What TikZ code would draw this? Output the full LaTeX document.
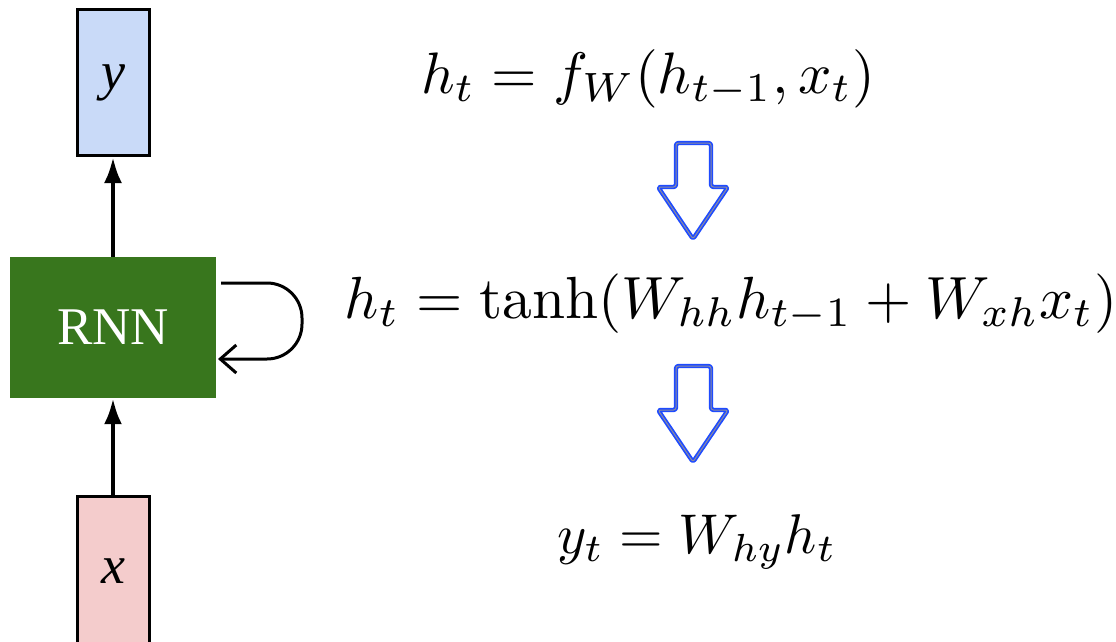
\documentclass[tikz,border=0pt]{standalone}
\usepackage{fontspec}
\newfontfamily\rnnfont{Liberation Serif}
\usetikzlibrary{arrows.meta,calc}
\definecolor{yfill}{HTML}{C9DAF8}
\definecolor{xfill}{HTML}{F4CCCC}
\definecolor{rnngreen}{HTML}{38761D}
\definecolor{arrblue}{RGB}{30,75,255}
\definecolor{arrgray}{RGB}{140,140,160}
\tikzset{
  vecbox/.style={draw=black, line width=3pt, minimum width=72pt, minimum height=146pt, inner sep=0pt, font=\rnnfont\itshape\fontsize{54}{60}\selectfont},
  flow/.style={line width=4.5pt, -{Latex[length=26pt,width=18pt]}},
  eq/.style={anchor=base, inner sep=0pt},
  hollow/.style={line width=4.4pt, draw=arrblue, rounded corners=2.5pt, line join=round},
  hollowin/.style={line width=1pt, draw=arrgray, rounded corners=2.5pt, line join=round}
}
\begin{document}
\begin{tikzpicture}[x=1pt,y=-1pt]
\useasboundingbox (0,0) rectangle (1116,642);
\node[vecbox, fill=yfill] (ybox) at (113,82.5) {y};
\node[vecbox, fill=xfill, minimum height=150pt] (xbox) at (113,571) {x};
\node[fill=rnngreen, minimum width=206pt, minimum height=141pt, inner sep=0pt, text=white, font=\rnnfont\fontsize{53}{58}\selectfont] (rnn) at (113,327.5) {RNN};
\draw[flow] (rnn.north) -- (ybox.south);
\draw[flow] (xbox.north) -- (rnn.south);
\coordinate (ls) at (221,283);
\coordinate (le) at (218,359);
\draw[line width=3pt, rounded corners=35pt, -{Straight Barb[length=16pt,width=28pt]}] (ls) -- (302,283) -- (302,359) -- (le);
\node[eq, scale=5.85] (e1) at (648,93) {$h_t = f_W(h_{t-1}, x_t)$};
\node[eq, scale=5.95] (e2) at (731,318) {$h_t = \tanh(W_{hh}h_{t-1} + W_{xh}x_t)$};
\node[eq, scale=5.6] (e3) at (697,553) {$y_t = W_{hy}h_t$};
\foreach \t/\s/\p in {143/187/239, 366/410/462}{
  \draw[hollow] (676,\t) -- (711,\t) -- (711,\s) -- (728,\s) -- (693,\p) -- (658,\s) -- (676,\s) -- cycle;
  \draw[hollowin] (676,\t) -- (711,\t) -- (711,\s) -- (728,\s) -- (693,\p) -- (658,\s) -- (676,\s) -- cycle;
}
\end{tikzpicture}
\end{document}
